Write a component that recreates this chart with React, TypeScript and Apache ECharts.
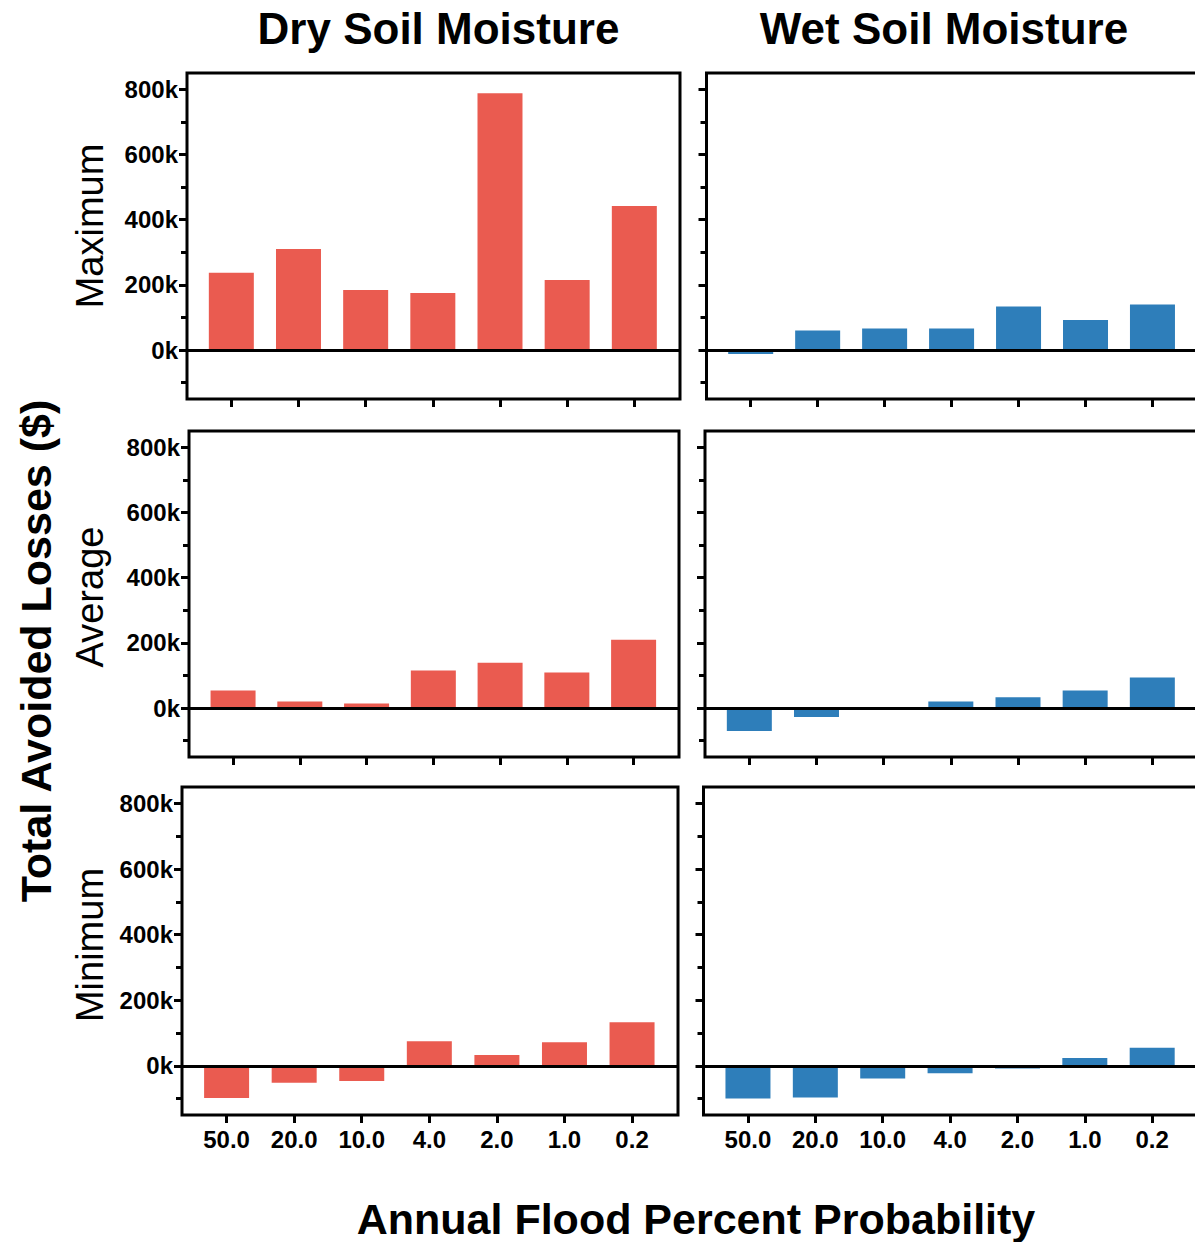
import React, { useEffect, useRef } from "react";
import * as echarts from "echarts";

const categories = ["50.0", "20.0", "10.0", "4.0", "2.0", "1.0", "0.2"];
const dryMax = [237000, 310000, 184000, 175000, 788000, 215000, 442000];
const wetMax = [-12000, 60000, 66000, 66000, 134000, 92000, 140000];
const dryAvg = [54000, 20000, 14000, 115000, 139000, 109000, 210000];
const wetAvg = [-70000, -27000, -2000, 20000, 33000, 54000, 94000];
const dryMin = [-98000, -52000, -46000, 75000, 33000, 72000, 133000];
const wetMin = [-100000, -97000, -39000, -23000, -8000, 24000, 55000];
const yMajorTicks = [0, 200000, 400000, 600000, 800000];
const yMinorTicks = [-100000, 100000, 300000, 500000, 700000];
const columnTitles = ["Dry Soil Moisture", "Wet Soil Moisture"];
const rowTitles = ["Maximum", "Average", "Minimum"];
const yTitle = "Total Avoided Losses ($)";
const xTitle = "Annual Flood Percent Probability";

const RED = "#EA5B50";
const BLUE = "#2E7EBA";
const FONT = "'Liberation Sans', Arial, Helvetica, sans-serif";

// panel layout: [left, top, width, height]
const panels = [
  { rect: [187, 73, 493, 326], data: dryMax, color: RED, col: 0, row: 0 },
  { rect: [706.5, 73, 491.5, 326], data: wetMax, color: BLUE, col: 1, row: 0 },
  { rect: [189, 431, 490, 326], data: dryAvg, color: RED, col: 0, row: 1 },
  { rect: [705, 431, 493, 326], data: wetAvg, color: BLUE, col: 1, row: 1 },
  { rect: [182, 787, 496, 328], data: dryMin, color: RED, col: 0, row: 2 },
  { rect: [703.5, 787, 494.5, 328], data: wetMin, color: BLUE, col: 1, row: 2 },
];

export default function App() {
  const ref = useRef<HTMLDivElement>(null);
  useEffect(() => {
    if (!ref.current) return;
    const chart = echarts.init(ref.current, null, { renderer: "svg" });
    const grids: any[] = [];
    const xAxes: any[] = [];
    const yAxes: any[] = [];
    const series: any[] = [];
    const catIdx = categories.map((_, i) => i);
    panels.forEach((p, i) => {
      const [l, t, w, h] = p.rect;
      grids.push({
        left: l,
        top: t,
        width: w,
        height: h,
        show: true,
        borderColor: "#000",
        borderWidth: 3,
        backgroundColor: "transparent",
        containLabel: false,
      });
      xAxes.push({
        type: "value",
        gridIndex: i,
        position: "bottom",
        min: -0.66,
        max: 6.68,
        axisLine: { show: false, onZero: false },
        splitLine: { show: false },
        axisTick: {
          show: true,
          customValues: catIdx,
          length: 8,
          lineStyle: { color: "#000", width: 3 },
        },
        axisLabel: {
          show: p.row === 2,
          customValues: catIdx,
          formatter: (v: number) => categories[Math.round(v)] ?? "",
          fontFamily: FONT,
          fontWeight: "bold",
          fontSize: 24,
          color: "#000",
          margin: 12,
        },
      });
      yAxes.push({
        type: "value",
        gridIndex: i,
        position: "left",
        min: -150000,
        max: 850000,
        axisLine: { show: false, onZero: false },
        splitLine: { show: false },
        axisTick: {
          show: true,
          customValues: yMajorTicks,
          length: 8,
          lineStyle: { color: "#000", width: 3 },
        },
        axisLabel: {
          show: p.col === 0,
          customValues: yMajorTicks,
          formatter: (v: number) => `${Math.round(v / 1000)}k`,
          fontFamily: FONT,
          fontWeight: "bold",
          fontSize: 24,
          color: "#000",
          margin: 9,
        },
      });
      yAxes.push({
        type: "value",
        gridIndex: i,
        min: -150000,
        max: 850000,
        position: "left",
        axisLine: { show: false, onZero: false },
        splitLine: { show: false },
        axisTick: {
          show: true,
          customValues: yMinorTicks,
          length: 6,
          lineStyle: { color: "#000", width: 3 },
        },
        axisLabel: { show: false, customValues: yMinorTicks },
      });
      series.push({
        type: "bar",
        xAxisIndex: i,
        yAxisIndex: i * 2,
        barWidth: 45,
        itemStyle: { color: p.color },
        data: p.data.map((v, k) => [k, v]),
        markLine: {
          silent: true,
          symbol: "none",
          label: { show: false },
          lineStyle: { color: "#000", width: 3, type: "solid" },
          data: [{ yAxis: 0 }],
          z: 10,
        },
      });
    });

    const graphic: any[] = [
      {
        type: "text",
        x: 438.5,
        y: 28,
        style: {
          text: columnTitles[0],
          font: `bold 44px ${FONT}`,
          fill: "#000",
          align: "center",
          verticalAlign: "middle",
        },
      },
      {
        type: "text",
        x: 944,
        y: 28,
        style: {
          text: columnTitles[1],
          font: `bold 44px ${FONT}`,
          fill: "#000",
          align: "center",
          verticalAlign: "middle",
        },
      },
      {
        type: "text",
        x: 36,
        y: 651,
        rotation: Math.PI / 2,
        style: {
          text: yTitle,
          font: `bold 43px ${FONT}`,
          fill: "#000",
          align: "center",
          verticalAlign: "middle",
        },
      },
      {
        type: "text",
        x: 696,
        y: 1219,
        style: {
          text: xTitle,
          font: `bold 43px ${FONT}`,
          fill: "#000",
          align: "center",
          verticalAlign: "middle",
        },
      },
    ];
    const rowCenters = [226, 597, 945];
    rowTitles.forEach((t, i) => {
      graphic.push({
        type: "text",
        x: 90,
        y: rowCenters[i],
        rotation: Math.PI / 2,
        style: {
          text: t,
          font: `38px ${FONT}`,
          fill: "#000",
          align: "center",
          verticalAlign: "middle",
        },
      });
    });

    chart.setOption({
      animation: false,
      backgroundColor: "#fff",
      grid: grids,
      xAxis: xAxes,
      yAxis: yAxes,
      series,
      graphic,
    });
    return () => chart.dispose();
  }, []);
  return (
    <div
      style={{ position: "absolute", left: 0, top: 0, width: 1195, height: 1242, overflow: "hidden", background: "#fff" }}
    >
      <div ref={ref} style={{ width: 1215, height: 1242 }} />
    </div>
  );
}
